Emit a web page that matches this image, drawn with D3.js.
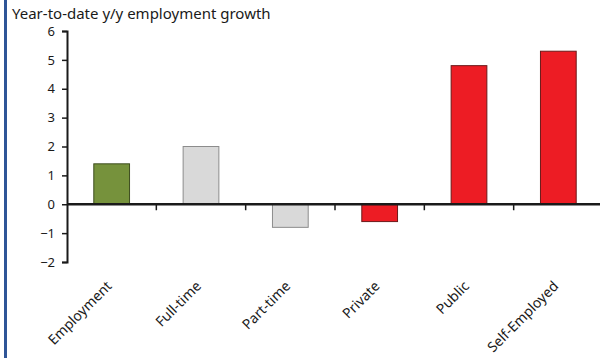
<!DOCTYPE html>
<html>
<head>
<meta charset="utf-8">
<script src="https://cdn.jsdelivr.net/npm/d3@7"></script>
<style>
  body { margin: 0; background: #fff; }
  text { font-family: "Noto Sans", sans-serif; fill: #1a1a1a; }
</style>
</head>
<body>
<svg id="chart"></svg>
<script>
const WIDTH = 600;
const HEIGHT = 358;

const categories = ['Employment', 'Full-time', 'Part-time', 'Private', 'Public', 'Self-Employed'];
const values = [1.4, 2.0, -0.8, -0.6, 4.8, 5.3];
const colorGroups = ['total', 'type', 'type', 'sector', 'sector', 'sector'];
const yTicks = [-2, -1, 0, 1, 2, 3, 4, 5, 6];
const title = 'Year-to-date y/y employment growth';

const fills = {total: '#76923c', type: '#d9d9d9', sector: '#ed1c24'};
const strokes = {total: '#3d4d1e', type: '#8c8c8c', sector: '#6b1a1a'};

const svg = d3.select('#chart')
	.attr('width', WIDTH)
	.attr('height', HEIGHT);

// blue frame line on the left
svg.append('line')
	.attr('x1', 5.5).attr('x2', 5.5)
	.attr('y1', 0).attr('y2', HEIGHT)
	.attr('stroke', '#2f5597')
	.attr('stroke-width', 3);

const x = d3.scaleBand()
	.domain(categories)
	.range([67, 603])
	.paddingInner(0.6)
	.paddingOuter(0.3);

const y = d3.scaleLinear()
	.domain([-2, 6])
	.range([262, 31]);

svg.append('text')
	.attr('x', 12)
	.attr('y', 19)
	.attr('font-size', 15)
	.text(title);

// bars
svg.append('g')
	.selectAll('rect')
	.data(categories)
	.enter()
	.append('rect')
	.attr('x', d => x(d))
	.attr('width', x.bandwidth())
	.attr('y', (d, i) => y(Math.max(0, values[i])))
	.attr('height', (d, i) => Math.abs(y(values[i]) - y(0)))
	.attr('fill', (d, i) => fills[colorGroups[i]])
	.attr('stroke', (d, i) => strokes[colorGroups[i]])
	.attr('stroke-width', 1);

// y axis
const yAxis = svg.append('g')
	.attr('transform', 'translate(67,0)')
	.call(d3.axisLeft(y).tickValues(yTicks).tickSize(5).tickPadding(7).tickFormat(d3.format('d')));
yAxis.select('.domain').attr('stroke', '#1a1a1a').attr('stroke-width', 2);
yAxis.selectAll('.tick line').attr('stroke', '#1a1a1a').attr('stroke-width', 1.5);
yAxis.selectAll('.tick text').attr('font-size', 13).attr('font-family', '"Noto Sans", sans-serif').attr('fill', '#1a1a1a');

// x axis at zero
const step = x.step();
const boundaries = categories.slice(1).map(c => x(c) - (step - x.bandwidth()) / 2);
svg.append('line')
	.attr('x1', 67).attr('x2', WIDTH)
	.attr('y1', y(0)).attr('y2', y(0))
	.attr('stroke', '#1a1a1a')
	.attr('stroke-width', 2.5);
svg.append('g')
	.selectAll('line')
	.data(boundaries)
	.enter()
	.append('line')
	.attr('x1', d => d).attr('x2', d => d)
	.attr('y1', y(0)).attr('y2', y(0) + 6)
	.attr('stroke', '#1a1a1a')
	.attr('stroke-width', 1.5);

// category labels
svg.append('g')
	.selectAll('text')
	.data(categories)
	.enter()
	.append('text')
	.attr('text-anchor', 'end')
	.attr('font-size', 14)
	.attr('transform', d => `translate(${x(d) + x.bandwidth() / 2 + 1},287) rotate(-45)`)
	.text(d => d);
</script>
</body>
</html>
